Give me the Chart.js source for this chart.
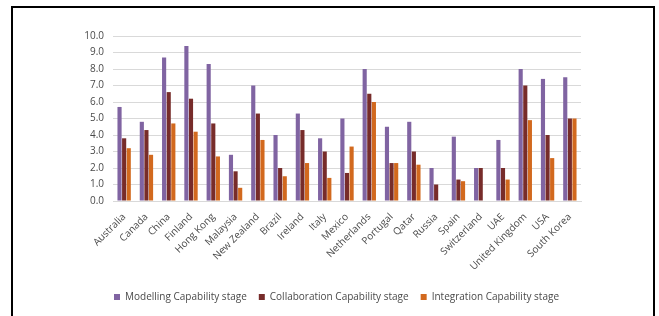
<!DOCTYPE html>
<html>
<head>
<meta charset="utf-8">
<script src="https://cdn.jsdelivr.net/npm/chart.js@4.4.0/dist/chart.umd.min.js"></script>
<style>
  html, body { margin: 0; padding: 0; background: #fff; }
  #wrap { position: relative; width: 659px; height: 316px; overflow: hidden; }
  #frame { position: absolute; left: 11px; top: 6px; width: 640px; height: 330px;
           border: 2px solid #000; border-bottom: none; }
  canvas { position: absolute; left: 0; top: 0; }
</style>
</head>
<body>
<div id="wrap">
  <div id="frame"></div>
  <canvas id="chart" width="659" height="316"></canvas>
</div>
<script>
const countries = ['Australia', 'Canada', 'China', 'Finland', 'Hong Kong', 'Malaysia', 'New Zealand',
  'Brazil', 'Ireland', 'Italy', 'Mexico', 'Netherlands', 'Portugal', 'Qatar', 'Russia', 'Spain',
  'Switzerland', 'UAE', 'United Kingdom', 'USA', 'South Korea']
const modelling = [5.7, 4.8, 8.7, 9.4, 8.3, 2.8, 7.0, 4.0, 5.3, 3.8, 5.0, 8.0, 4.5, 4.8, 2.0, 3.9, 2.0, 3.7, 8.0, 7.4, 7.5]
const collaboration = [3.8, 4.3, 6.6, 6.2, 4.7, 1.8, 5.3, 2.0, 4.3, 3.0, 1.7, 6.5, 2.3, 3.0, 1.0, 1.3, 2.0, 2.0, 7.0, 4.0, 5.0]
const integration = [3.2, 2.8, 4.7, 4.2, 2.7, 0.8, 3.7, 1.5, 2.3, 1.4, 3.3, 6.0, 2.3, 2.2, 0, 1.2, 0, 1.3, 4.9, 2.6, 5.0]
const yTicks = [0, 1, 2, 3, 4, 5, 6, 7, 8, 9, 10]

const textColor = '#4a4a4a'
const font = 'Open Sans'

// the legend sits a little right of the plot's centre in the original
const shiftLegend = {
  id: 'shiftLegend',
  afterLayout(chart) {
    chart.legend.left += 41
    chart.legend.right += 41
  }
}

const ctx = document.getElementById('chart').getContext('2d')
const myChart = new Chart(ctx, {
  type: 'bar',
  data: {
    labels: countries,
    datasets: [
      { label: 'Modelling Capability stage', data: modelling, backgroundColor: '#8064A2' },
      { label: 'Collaboration Capability stage', data: collaboration, backgroundColor: '#772C2A' },
      { label: 'Integration Capability stage', data: integration, backgroundColor: '#D2691E' }
    ]
  },
  plugins: [shiftLegend],
  options: {
    responsive: false,
    animation: false,
    devicePixelRatio: 1,
    categoryPercentage: 0.62,
    barPercentage: 0.9,
    layout: { padding: { left: 10, right: 78, top: 36, bottom: 4 } },
    plugins: {
      tooltip: { enabled: false },
      legend: {
        position: 'bottom',
        labels: {
          boxWidth: 6, boxHeight: 6, padding: 12,
          color: textColor,
          font: { family: font, size: 10 }
        }
      }
    },
    scales: {
      x: {
        grid: { display: false },
        border: { color: '#D9D9D9' },
        ticks: {
          minRotation: 45, maxRotation: 45, autoSkip: false,
          color: textColor, padding: 2,
          font: { family: font, size: 10 }
        },
        afterFit: scale => { scale.height = 79 }
      },
      y: {
        min: 0, max: 10,
        afterBuildTicks: scale => { scale.ticks = yTicks.map(v => ({ value: v })) },
        grid: { color: '#D9D9D9', drawTicks: false },
        border: { display: false },
        ticks: {
          autoSkip: false,
          color: textColor, padding: 9,
          font: { family: font, size: 10 },
          callback: v => v.toFixed(1)
        },
        afterFit: scale => { scale.width = 103 }
      }
    }
  }
})
</script>
</body>
</html>
